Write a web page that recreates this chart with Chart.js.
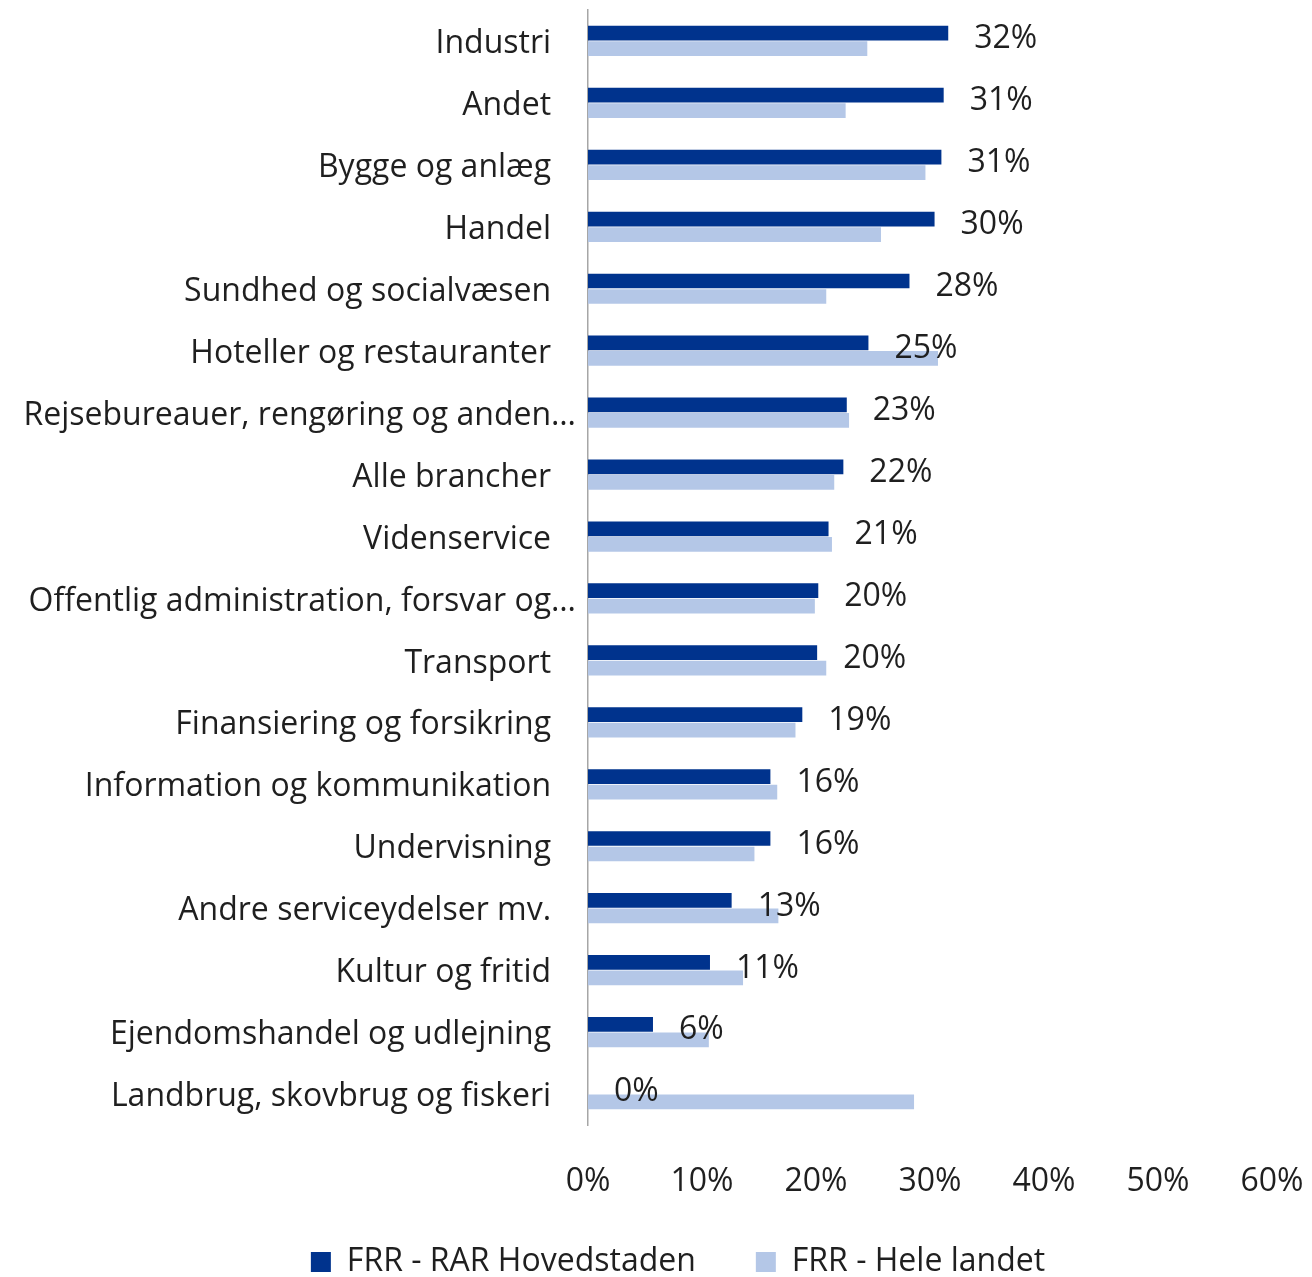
<!DOCTYPE html>
<html>
<head>
<meta charset="utf-8">
<script src="https://cdn.jsdelivr.net/npm/chart.js@4"></script>
<style>
  html, body { margin: 0; padding: 0; background: #ffffff; }
  #wrap { width: 1312px; height: 1277px; }
</style>
</head>
<body>
<div id="wrap"><canvas id="chart"></canvas></div>
<script>
// brancher (kategorier)
const categories = [
    'Industri',
    'Andet',
    'Bygge og anlæg',
    'Handel',
    'Sundhed og socialvæsen',
    'Hoteller og restauranter',
    'Rejsebureauer, rengøring og anden…',
    'Alle brancher',
    'Videnservice',
    'Offentlig administration, forsvar og…',
    'Transport',
    'Finansiering og forsikring',
    'Information og kommunikation',
    'Undervisning',
    'Andre serviceydelser mv.',
    'Kultur og fritid',
    'Ejendomshandel og udlejning',
    'Landbrug, skovbrug og fiskeri'
];

// FRR - RAR Hovedstaden (%)
const hovedstaden = [31.6, 31.2, 31.0, 30.4, 28.2, 24.6, 22.7, 22.4, 21.1, 20.2, 20.1, 18.8, 16.0, 16.0, 12.6, 10.7, 5.7, 0];

// FRR - Hele landet (%)
const heleLandet = [24.5, 22.6, 29.6, 25.7, 20.9, 30.7, 22.9, 21.6, 21.4, 19.9, 20.9, 18.2, 16.6, 14.6, 16.7, 13.6, 10.6, 28.6];

const seriesNames = ['FRR - RAR Hovedstaden', 'FRR - Hele landet'];
const xTicks = [0, 10, 20, 30, 40, 50, 60];

const FONT = "'Open Sans', 'Noto Sans', sans-serif";
const SIZE = 32;
const TEXT = '#1f1f1f';

// værdietiketter for den mørke serie
const valueLabels = {
    id: 'valueLabels',
    afterDatasetsDraw(chart) {
        const ctx = chart.ctx;
        const meta = chart.getDatasetMeta(0);
        ctx.save();
        ctx.font = SIZE + 'px ' + FONT;
        ctx.fillStyle = TEXT;
        ctx.textAlign = 'left';
        ctx.textBaseline = 'middle';
        meta.data.forEach((bar, i) => {
            const v = chart.data.datasets[0].data[i];
            ctx.fillText(Math.round(v) + '%', bar.x + 26, bar.y + 6);
        });
        ctx.restore();
    }
};

// akse-tekster må gå ud over deres boks
const unclip = {
    id: 'unclip',
    afterLayout(chart) {
        chart.scales.x.bottom = chart.height;
        chart.scales.y.left = 0;
    }
};

const ctx = document.getElementById('chart').getContext('2d');
new Chart(ctx, {
    type: 'bar',
    data: {
        labels: categories,
        datasets: [{
            label: seriesNames[0],
            data: hovedstaden,
            backgroundColor: '#00338d',
            categoryPercentage: 0.5,
            barPercentage: 0.95
        }, {
            label: seriesNames[1],
            data: heleLandet,
            backgroundColor: '#b4c7e7',
            categoryPercentage: 0.5,
            barPercentage: 0.95
        }]
    },
    options: {
        indexAxis: 'y',
        responsive: true,
        maintainAspectRatio: false,
        animation: false,
        layout: { padding: { top: 10, right: 0, bottom: -11, left: 44 } },
        scales: {
            x: {
                min: 0,
                max: 60,
                afterBuildTicks: (scale) => { scale.ticks = xTicks.map(v => ({ value: v })); },
                afterFit: (scale) => { scale.height = 61; scale.paddingRight = 40; },
                grid: { display: false },
                border: { display: false },
                ticks: {
                    padding: 30,
                    color: TEXT,
                    font: { family: FONT, size: SIZE },
                    callback: (v) => v + '%'
                }
            },
            y: {
                grid: { display: false },
                border: { display: true, color: '#a6a6a6', width: 1.5 },
                afterFit: (scale) => { scale.width = 544; scale.paddingTop = 0; scale.paddingBottom = 0; },
                ticks: {
                    padding: 4,
                    labelOffset: 3,
                    color: TEXT,
                    font: { family: FONT, size: SIZE },
                    autoSkip: false,
                    callback: function (v, i) {
                        const l = categories[i];
                        return l.endsWith('…') ? l : l + '   ';
                    }
                }
            }
        },
        plugins: {
            legend: {
                position: 'bottom',
                labels: {
                    boxWidth: 20,
                    boxHeight: 20,
                    padding: 60,
                    color: TEXT,
                    font: { family: FONT, size: SIZE }
                }
            },
            tooltip: { enabled: false }
        }
    },
    plugins: [valueLabels, unclip]
});
</script>
</body>
</html>
